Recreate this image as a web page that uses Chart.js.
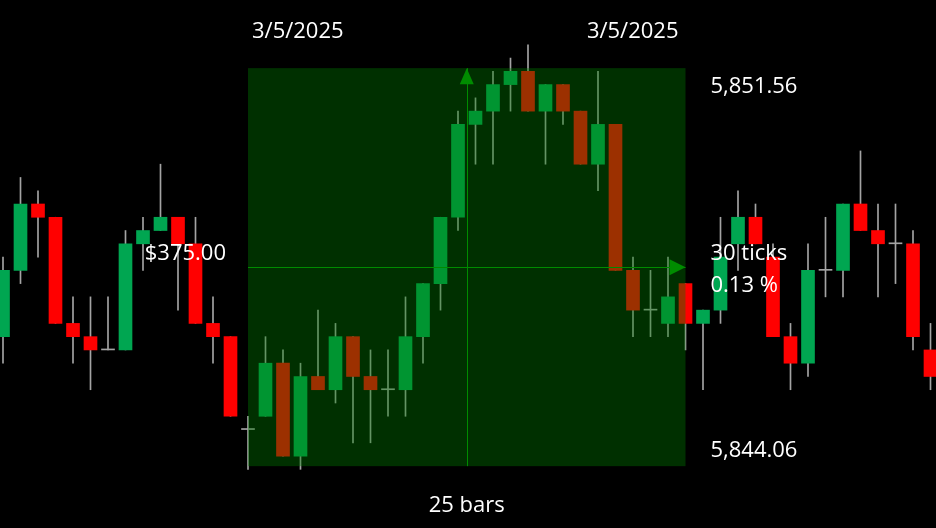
<!DOCTYPE html>
<html>
<head>
<meta charset="utf-8">
<script src="https://cdn.jsdelivr.net/npm/chart.js@4/dist/chart.umd.min.js"></script>
<style>
  html, body { margin: 0; padding: 0; background: #000; }
  #grafico { display: block; }
</style>
</head>
<body>
<canvas id="grafico" width="936" height="528"></canvas>
<script>
// Velas (precio ES, tick 0.25)
const aperturas = [5846.50, 5847.75, 5849.00, 5848.75, 5846.75, 5846.50, 5846.25, 5846.25, 5848.25, 5848.50,
  5848.75, 5848.25, 5846.75, 5846.50, 5844.75, 5845.00, 5846.00, 5844.25, 5845.75, 5845.50,
  5846.50, 5845.75, 5845.50, 5845.50, 5846.50, 5847.50, 5848.75, 5850.50, 5850.75, 5851.25,
  5851.50, 5850.75, 5851.25, 5850.75, 5849.75, 5850.50, 5847.75, 5847.00, 5846.75, 5847.50,
  5846.75, 5847.00, 5848.25, 5848.75, 5848.00, 5846.50, 5846.00, 5847.75, 5847.75, 5849.00,
  5848.50, 5848.25, 5848.25, 5846.25];
const maximos = [5848.00, 5849.50, 5849.25, 5848.75, 5847.25, 5847.25, 5847.25, 5848.50, 5848.75, 5849.75,
  5848.75, 5848.75, 5847.25, 5846.50, 5845.00, 5846.50, 5846.25, 5846.00, 5847.00, 5846.75,
  5846.50, 5846.25, 5846.25, 5847.25, 5847.50, 5848.75, 5850.75, 5851.00, 5851.50, 5851.75,
  5852.00, 5851.25, 5851.25, 5850.75, 5851.50, 5850.50, 5848.00, 5847.75, 5848.00, 5847.50,
  5847.00, 5848.75, 5849.25, 5849.00, 5848.25, 5846.75, 5848.25, 5848.75, 5849.00, 5850.00,
  5849.00, 5849.00, 5848.50, 5846.75];
const minimos = [5846.00, 5847.50, 5848.00, 5846.75, 5846.00, 5845.50, 5846.25, 5846.25, 5847.75, 5848.50,
  5847.00, 5846.75, 5846.00, 5845.00, 5844.00, 5845.00, 5844.25, 5844.00, 5845.50, 5845.25,
  5844.50, 5844.50, 5845.00, 5845.00, 5846.00, 5847.00, 5848.50, 5849.75, 5849.75, 5850.75,
  5850.75, 5849.75, 5850.50, 5849.75, 5849.25, 5847.75, 5846.50, 5846.50, 5846.50, 5846.25,
  5845.50, 5846.75, 5847.75, 5848.25, 5846.50, 5845.50, 5845.75, 5847.25, 5847.25, 5848.50,
  5847.25, 5847.50, 5846.25, 5845.50];
const cierres = [5847.75, 5849.00, 5848.75, 5846.75, 5846.50, 5846.25, 5846.25, 5848.25, 5848.50, 5848.75,
  5848.25, 5846.75, 5846.50, 5845.00, 5844.75, 5846.00, 5844.25, 5845.75, 5845.50, 5846.50,
  5845.75, 5845.50, 5845.50, 5846.50, 5847.50, 5848.75, 5850.50, 5850.75, 5851.25, 5851.50,
  5850.75, 5851.25, 5850.75, 5849.75, 5850.50, 5847.75, 5847.00, 5847.00, 5847.25, 5846.75,
  5847.00, 5848.00, 5848.75, 5848.25, 5846.50, 5846.00, 5847.75, 5847.75, 5849.00, 5848.50,
  5848.25, 5848.25, 5846.50, 5845.75];

// Regla (medición) sobre el gráfico
const reglaBarraInicio = 14;
const reglaBarraFin = 39;
const reglaPrecioArriba = 5851.56;
const reglaPrecioAbajo = 5844.06;
const reglaFecha = '3/5/2025';
const tamanoTick = 0.25;
const valorPunto = 50;

const colorSube = '#00a651';
const colorBaja = '#ff0000';
const colorMecha = '#a4a4a4';

// Cuerpo: doji en gris como la mecha
const coloresCuerpo = aperturas.map((a, i) =>
  cierres[i] > a ? colorSube : (cierres[i] < a ? colorBaja : colorMecha));

const espacioBarra = 17.5;
const primeraBarraPx = 3;

const formato = v => v.toLocaleString('en-US', { minimumFractionDigits: 2, maximumFractionDigits: 2 });

// Dibuja la regla encima de las velas
const pluginRegla = {
  id: 'regla',
  afterDatasetsDraw(chart) {
    const ctx = chart.ctx;
    const x = chart.scales.x;
    const y = chart.scales.y;
    const izq = x.getPixelForValue(reglaBarraInicio);
    const der = x.getPixelForValue(reglaBarraFin);
    const arriba = y.getPixelForValue(reglaPrecioArriba);
    const abajo = y.getPixelForValue(reglaPrecioAbajo);
    const medioX = (izq + der) / 2;
    const medioY = y.getPixelForValue((reglaPrecioArriba + reglaPrecioAbajo) / 2);

    ctx.save();
    // Área sombreada
    ctx.fillStyle = 'rgba(0, 123, 0, 0.39)';
    ctx.fillRect(izq, arriba, der - izq, abajo - arriba);

    // Líneas centrales
    ctx.strokeStyle = '#008a00';
    ctx.lineWidth = 1;
    ctx.beginPath();
    ctx.moveTo(Math.round(medioX) + 0.5, arriba);
    ctx.lineTo(Math.round(medioX) + 0.5, abajo);
    ctx.moveTo(izq, Math.round(medioY) + 0.5);
    ctx.lineTo(der, Math.round(medioY) + 0.5);
    ctx.stroke();

    // Flechas
    ctx.fillStyle = '#008c00';
    ctx.beginPath();
    ctx.moveTo(medioX, arriba);
    ctx.lineTo(medioX - 7, arriba + 16);
    ctx.lineTo(medioX + 7, arriba + 16);
    ctx.closePath();
    ctx.fill();
    ctx.beginPath();
    ctx.moveTo(der, medioY);
    ctx.lineTo(der - 16, medioY - 8);
    ctx.lineTo(der - 16, medioY + 8);
    ctx.closePath();
    ctx.fill();

    // Textos
    const rango = reglaPrecioArriba - reglaPrecioAbajo;
    const ticks = Math.round(rango / tamanoTick);
    const pct = (rango / reglaPrecioAbajo * 100).toFixed(2);
    const dinero = '$' + formato(ticks * tamanoTick * valorPunto);
    const barras = reglaBarraFin - reglaBarraInicio;

    ctx.fillStyle = '#ffffff';
    ctx.font = '22px "Open Sans", "Noto Sans", sans-serif';
    ctx.textBaseline = 'alphabetic';

    ctx.textAlign = 'left';
    ctx.fillText(reglaFecha, izq + 4, arriba - 30);
    ctx.fillText(formato(reglaPrecioArriba), der + 25, arriba + 25);
    ctx.fillText(formato(reglaPrecioAbajo), der + 25, abajo - 9);
    ctx.fillText(ticks + ' ticks', der + 25, medioY - 7);
    ctx.fillText(pct + ' %', der + 25, medioY + 25);

    ctx.textAlign = 'right';
    ctx.fillText(reglaFecha, der - 7, arriba - 30);
    ctx.fillText(dinero, izq - 22, medioY - 7);

    ctx.textAlign = 'center';
    ctx.fillText(barras + ' bars', medioX, abajo + 46);
    ctx.restore();
  }
};

const canvas = document.getElementById('grafico');

new Chart(canvas, {
  type: 'bar',
  data: {
    datasets: [
      {
        label: 'Cuerpo',
        data: aperturas.map((a, i) => ({ x: i, y: [a, cierres[i]] })),
        backgroundColor: coloresCuerpo,
        borderWidth: 0,
        barThickness: 13,
        minBarLength: 1,
        grouped: false,
        order: 1
      },
      {
        label: 'Mecha',
        data: minimos.map((l, i) => ({ x: i, y: [l, maximos[i]] })),
        backgroundColor: colorMecha,
        borderWidth: 0,
        barThickness: 1,
        grouped: false,
        order: 2
      }
    ]
  },
  options: {
    responsive: false,
    animation: false,
    layout: { padding: 0 },
    plugins: {
      legend: { display: false },
      title: { display: false },
      tooltip: { enabled: false }
    },
    scales: {
      x: {
        type: 'linear',
        display: false,
        offset: false,
        min: -primeraBarraPx / espacioBarra,
        max: (936 - primeraBarraPx) / espacioBarra
      },
      y: {
        type: 'linear',
        display: false,
        min: 5842.8945,
        max: 5852.8442
      }
    }
  },
  plugins: [pluginRegla]
});
</script>
</body>
</html>
